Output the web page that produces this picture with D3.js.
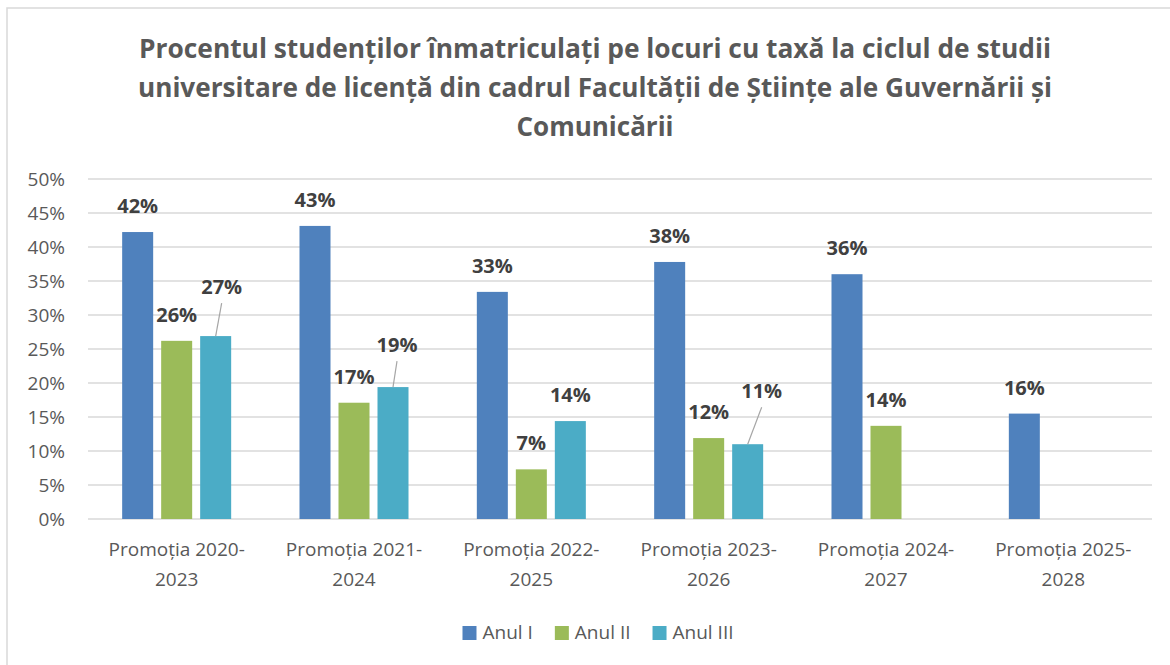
<!DOCTYPE html>
<html lang="ro">
  <head>
    <meta charset="UTF-8" />
    <title>Procentul studenților înmatriculați pe locuri cu taxă</title>
    <script src="https://d3js.org/d3.v7.min.js"></script>
    <style>
      body { margin: 0; background: #fff; }
      svg { font-family: "Open Sans", "Liberation Sans", sans-serif; }
      .grid line { stroke: #d9d9d9; stroke-width: 1.5; }
      .tick-label { fill: #595959; font-size: 19px; }
      .value-label { fill: #404040; font-size: 20px; font-weight: bold; }
      .title { fill: #595959; font-size: 26px; font-weight: bold; }
    </style>
  </head>
  <body>
    <svg width="1170" height="665"></svg>
    <script>
      const categories = [
        "Promoția 2020-2023",
        "Promoția 2021-2024",
        "Promoția 2022-2025",
        "Promoția 2023-2026",
        "Promoția 2024-2027",
        "Promoția 2025-2028",
      ];
      const seriesNames = ["Anul I", "Anul II", "Anul III"];
      const anulI = [42.2, 43.1, 33.4, 37.8, 36.0, 15.5];
      const anulII = [26.2, 17.1, 7.3, 11.9, 13.7, null];
      const anulIII = [26.9, 19.4, 14.4, 11.0, null, null];
      const yTicks = [0, 5, 10, 15, 20, 25, 30, 35, 40, 45, 50];
      const titleLines = [
        "Procentul studenților înmatriculați pe locuri cu taxă la ciclul de studii",
        "universitare de licență din cadrul Facultății de Științe ale Guvernării și",
        "Comunicării",
      ];

      const colors = ["#4f81bd", "#9bbb59", "#4bacc6"];
      const seriesValues = [anulI, anulII, anulIII];

      // labels that Excel moved by hand (series index, category index) -> offset
      const movedLabels = {
        "2-0": { dx: 6, dy: -23 },
        "2-1": { dx: 4, dy: -16 },
        "2-3": { dx: 14, dy: -27 },
      };

      const svg = d3.select("svg");
      const plot = { left: 88, right: 1152, top: 179, bottom: 519 };

      // chart outline (only left and top edges are visible)
      svg.append("rect")
        .attr("x", 7).attr("y", 8)
        .attr("width", 1200).attr("height", 700)
        .attr("fill", "none")
        .attr("stroke", "#d9d9d9")
        .attr("stroke-width", 1.5);

      const titleWidths = [912, 914, 0];
      svg.selectAll(".title")
        .data(titleLines)
        .enter()
        .append("text")
        .attr("class", "title")
        .attr("x", 595)
        .attr("y", (d, i) => 58 + i * 39)
        .attr("text-anchor", "middle")
        .each(function (d, i) {
          if (titleWidths[i]) {
            d3.select(this)
              .attr("textLength", titleWidths[i])
              .attr("lengthAdjust", "spacingAndGlyphs");
          }
        })
        .text((d) => d);

      const x0 = d3.scaleBand()
        .domain(categories)
        .range([plot.left, plot.right])
        .padding(0);

      const x1 = d3.scaleBand()
        .domain(d3.range(3))
        .range([0, x0.bandwidth()])
        .paddingInner(0.205)
        .paddingOuter(0.876);

      const y = d3.scaleLinear().domain([0, 50]).range([plot.bottom, plot.top]);

      // gridlines
      svg.append("g")
        .attr("class", "grid")
        .selectAll("line")
        .data(yTicks)
        .enter()
        .append("line")
        .attr("x1", plot.left)
        .attr("x2", plot.right)
        .attr("y1", (d) => y(d))
        .attr("y2", (d) => y(d));

      // y tick labels
      svg.selectAll(".ylab")
        .data(yTicks)
        .enter()
        .append("text")
        .attr("class", "tick-label")
        .attr("x", 65)
        .attr("y", (d) => y(d) + 7)
        .attr("text-anchor", "end")
        .text((d) => d + "%");

      // bars
      const flat = [];
      seriesValues.forEach((vals, s) => {
        vals.forEach((v, c) => {
          if (v != null) flat.push({ s: s, c: c, v: v });
        });
      });

      svg.selectAll(".bar")
        .data(flat)
        .enter()
        .append("rect")
        .attr("class", "bar")
        .attr("x", (d) => x0(categories[d.c]) + x1(d.s))
        .attr("y", (d) => y(d.v))
        .attr("width", x1.bandwidth())
        .attr("height", (d) => y(0) - y(d.v))
        .attr("fill", (d) => colors[d.s]);

      // value labels
      flat.forEach((d) => {
        const cx = x0(categories[d.c]) + x1(d.s) + x1.bandwidth() / 2;
        const top = y(d.v);
        const moved = movedLabels[d.s + "-" + d.c];
        let lx = cx;
        let ly = top - 19;
        if (moved) {
          lx = cx + moved.dx;
          ly = top - 19 + moved.dy;
          svg.append("line")
            .attr("x1", lx).attr("y1", ly + 9)
            .attr("x2", cx).attr("y2", top)
            .attr("stroke", "#a6a6a6")
            .attr("stroke-width", 1.2);
        }
        svg.append("text")
          .attr("class", "value-label")
          .attr("x", lx)
          .attr("y", ly)
          .attr("text-anchor", "middle")
          .text(Math.round(d.v) + "%");
      });

      // category labels, wrapped after the hyphen
      categories.forEach((cat) => {
        const cx = x0(cat) + x0.bandwidth() / 2;
        const parts = [cat.slice(0, cat.indexOf("-") + 1), cat.slice(cat.indexOf("-") + 1)];
        parts.forEach((p, i) => {
          svg.append("text")
            .attr("class", "tick-label")
            .attr("x", cx)
            .attr("y", 556 + i * 30)
            .attr("text-anchor", "middle")
            .text(p);
        });
      });

      // legend
      const legend = svg.append("g");
      let lx = 0;
      seriesNames.forEach((name, i) => {
        const g = legend.append("g").attr("transform", "translate(" + lx + ",0)");
        g.append("rect")
          .attr("x", 0).attr("y", -13)
          .attr("width", 14).attr("height", 14)
          .attr("fill", colors[i]);
        const t = g.append("text")
          .attr("class", "tick-label")
          .attr("x", 20)
          .attr("y", 0)
          .text(name);
        lx += 20 + t.node().getComputedTextLength() + 22;
      });
      const legendWidth = lx - 22;
      legend.attr("transform", "translate(" + (598 - legendWidth / 2) + ",639)");
    </script>
  </body>
</html>
